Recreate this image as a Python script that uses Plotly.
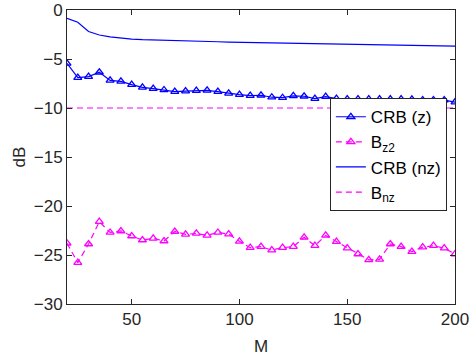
import plotly.graph_objects as go

# Number of elements M
M = [20, 25, 30, 35, 40, 45, 50, 55, 60, 65, 70, 75, 80, 85, 90, 95, 100, 105, 110,
     115, 120, 125, 130, 135, 140, 145, 150, 155, 160, 165, 170, 175, 180, 185, 190, 195, 200]

# CRB with zero-padding (dB)
crb_z = [-5.44, -6.9, -6.8, -6.35, -7.18, -7.28, -7.62, -7.9, -8.03, -8.16, -8.33, -8.27,
         -8.23, -8.2, -8.33, -8.5, -8.64, -8.74, -8.7, -8.9, -8.95, -8.76, -8.8, -9.05,
         -8.84, -9.05, -9.1, -9.1, -9.1, -9.1, -9.1, -9.1, -9.12, -9.18, -9.18, -9.2, -9.4]

# Bound B_z2 (dB)
b_z2 = [-23.8, -25.78, -23.88, -21.6, -22.7, -22.55, -23.06, -23.47, -23.3, -23.57, -22.6,
        -22.9, -22.8, -23.0, -22.7, -22.86, -23.6, -24.25, -24.15, -24.5, -24.25, -24.15,
        -23.2, -24.05, -23.0, -23.64, -24.3, -24.9, -25.5, -25.45, -23.88, -24.15, -24.66,
        -24.2, -24.05, -24.3, -24.9]

# CRB without zero-padding (dB)
crb_nz = [-0.85, -1.25, -2.2, -2.55, -2.75, -2.88, -2.97, -3.03, -3.07, -3.1, -3.13, -3.16,
          -3.19, -3.22, -3.24, -3.27, -3.29, -3.31, -3.33, -3.35, -3.37, -3.39, -3.41, -3.43,
          -3.45, -3.47, -3.49, -3.51, -3.53, -3.55, -3.57, -3.59, -3.61, -3.63, -3.65, -3.66,
          -3.68]

# Bound B_nz (dB), flat across M
b_nz = [-10.0] * len(M)

x_ticks = [50, 100, 150, 200]
y_ticks = [-30, -25, -20, -15, -10, -5, 0]

BLUE = "#0000ff"
MAGENTA = "#ff00ff"
AXIS = "#262626"
FONT = "Liberation Sans, Arial, sans-serif"
DASH = "6px,4px"

fig = go.Figure()
fig.add_trace(go.Scatter(
    x=M, y=crb_z, name="CRB (z)", mode="lines+markers",
    line=dict(color=BLUE, width=1.2),
    marker=dict(symbol="triangle-up-open", size=7, color=BLUE, line=dict(width=1.3)),
))
fig.add_trace(go.Scatter(
    x=M, y=b_z2, name="B<sub>z2</sub>", mode="lines+markers",
    line=dict(color=MAGENTA, width=1.2, dash=DASH),
    marker=dict(symbol="triangle-up-open", size=7, color=MAGENTA, line=dict(width=1.3)),
))
fig.add_trace(go.Scatter(
    x=M, y=crb_nz, name="CRB (nz)", mode="lines",
    line=dict(color=BLUE, width=1.2),
))
fig.add_trace(go.Scatter(
    x=M, y=b_nz, name="B<sub>nz</sub>", mode="lines",
    line=dict(color=MAGENTA, width=1.2, dash=DASH),
))

axis_common = dict(
    showline=True, linecolor=AXIS, linewidth=1, mirror="ticks",
    ticks="inside", ticklen=5, tickcolor=AXIS, tickwidth=1,
    showgrid=False, zeroline=False, automargin=False,
    tickfont=dict(family=FONT, size=17, color=AXIS),
)

fig.update_layout(
    width=471, height=360,
    margin=dict(l=67, r=16, t=10, b=56),
    plot_bgcolor="white", paper_bgcolor="white",
    font=dict(family=FONT, size=17, color=AXIS),
    xaxis=dict(range=[20, 200], tickvals=x_ticks,
               title=dict(text="M", font=dict(size=17), standoff=11), **axis_common),
    yaxis=dict(range=[-30, 0], tickvals=y_ticks,
               title=dict(text="dB", font=dict(size=17), standoff=3), **axis_common),
    legend=dict(
        x=0.979, y=0.70, xanchor="right", yanchor="top",
        bgcolor="white", bordercolor=AXIS, borderwidth=1,
        font=dict(family=FONT, size=17, color="black"),
        tracegroupgap=0, itemwidth=30,
    ),
)

fig.write_html("out.html")
